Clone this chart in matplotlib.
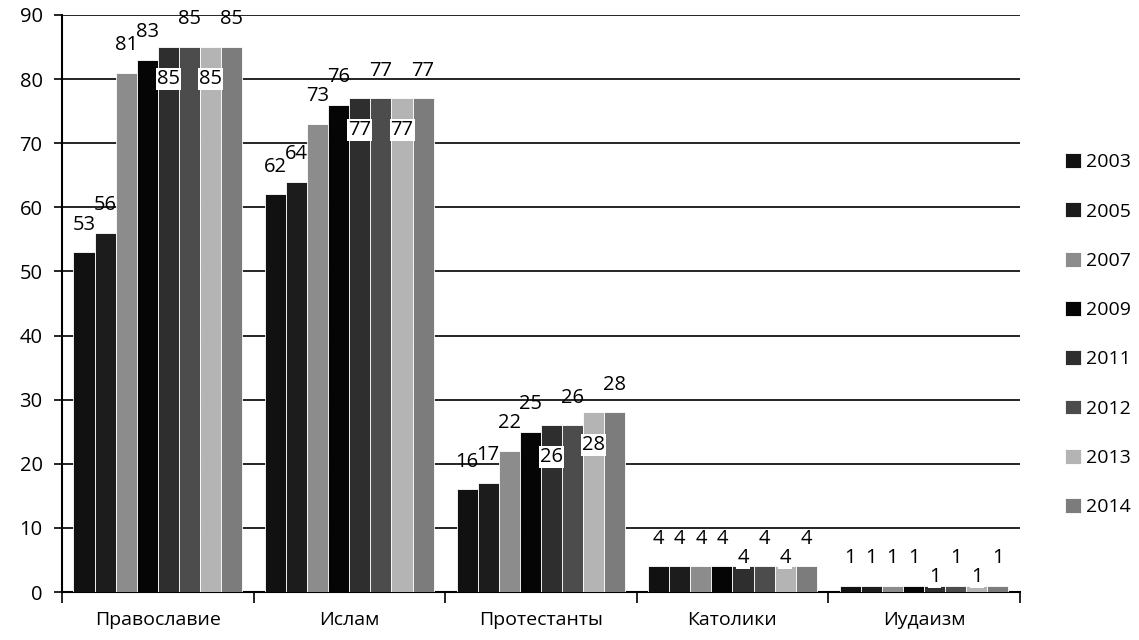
import matplotlib.pyplot as plt
import numpy as np

plt.rcParams['font.family'] = ['Open Sans', 'DejaVu Sans']

categories = ['Православие', 'Ислам', 'Протестанты', 'Католики', 'Иудаизм']
years = ['2003', '2005', '2007', '2009', '2011', '2012', '2013', '2014']
values = {
    '2003': [53, 62, 16, 4, 1],
    '2005': [56, 64, 17, 4, 1],
    '2007': [81, 73, 22, 4, 1],
    '2009': [83, 76, 25, 4, 1],
    '2011': [85, 77, 26, 4, 1],
    '2012': [85, 77, 26, 4, 1],
    '2013': [85, 77, 28, 4, 1],
    '2014': [85, 77, 28, 4, 1],
}
colors = ['#111111', '#1c1c1c', '#8c8c8c', '#050505',
          '#2e2e2e', '#4c4c4c', '#b4b4b4', '#7c7c7c']
# series whose labels Excel pushed inside the bar
inside = ['2011', '2013']

fig = plt.figure(figsize=(11.39, 6.4), dpi=100)
ax = fig.add_axes([0.0544, 0.075, 0.841, 0.9016])

x = np.arange(len(categories))
w = 0.88 / len(years)
for j, yr in enumerate(years):
    pos = x + (j - 3.5) * w
    ax.bar(pos, values[yr], w, color=colors[j], edgecolor='white',
           linewidth=0.6, label=yr, zorder=3)
    for px, v in zip(pos, values[yr]):
        if yr in inside:
            ty = v - 5 if v > 10 else v + 1.3
            ax.text(px, ty, str(v), ha='center', va='center', fontsize=14.5,
                    zorder=5, bbox=dict(boxstyle='square,pad=0.05', fc='white', ec='none'))
        else:
            ax.text(px, v + 4.3, str(v), ha='center', va='center', fontsize=14.5, zorder=5)

ax.set_xlim(-0.5, len(categories) - 0.5)
ax.set_ylim(0, 90)
ax.set_yticks(range(0, 91, 10))
ax.yaxis.grid(True, color='black', linewidth=1.2, zorder=0)
ax.set_axisbelow(True)
ax.set_xticks(x)
ax.set_xticklabels(categories, fontsize=14)
ax.set_xticks(np.arange(-0.5, len(categories), 1), minor=True)
ax.tick_params(axis='x', which='major', length=0, pad=14)
ax.tick_params(axis='x', which='minor', length=8, width=1.2, direction='out')
ax.tick_params(axis='y', labelsize=14.5, length=6, width=1.2, pad=8)
for s in ['top', 'right']:
    ax.spines[s].set_visible(False)
ax.spines['left'].set_linewidth(1.5)
ax.spines['bottom'].set_linewidth(1.5)

fig.legend(loc='center left', bbox_to_anchor=(0.92, 0.477), frameon=False,
           fontsize=14, handlelength=0.8, handleheight=0.8, handletextpad=0.25,
           labelspacing=1.6)

fig.savefig('out.png', dpi=100)
